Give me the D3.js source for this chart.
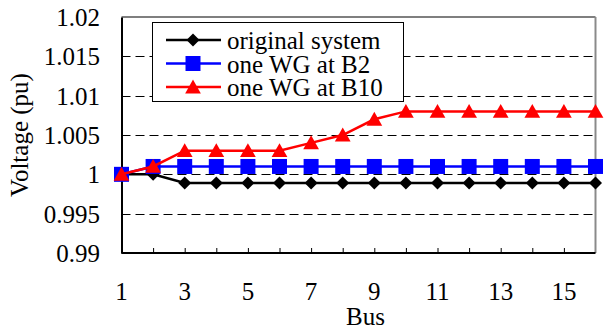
<!DOCTYPE html>
<html>
<head>
<meta charset="utf-8">
<script src="https://cdn.jsdelivr.net/npm/d3@7"></script>
<style>
  html, body { margin: 0; padding: 0; background: #fff; }
  svg { display: block; }
</style>
</head>
<body>
<svg id="chart" width="607" height="331"></svg>
<script>
// Bus numbers along the feeder
const buses = [1, 2, 3, 4, 5, 6, 7, 8, 9, 10, 11, 12, 13, 14, 15, 16];
// Bus voltages (pu) for each case
const originalSystem = [1.0, 1.0, 0.9989, 0.9989, 0.9989, 0.9989, 0.9989, 0.9989, 0.9989, 0.9989, 0.9989, 0.9989, 0.9989, 0.9989, 0.9989, 0.9989];
const wgAtB2 = [1.0, 1.001, 1.001, 1.001, 1.001, 1.001, 1.001, 1.001, 1.001, 1.001, 1.001, 1.001, 1.001, 1.001, 1.001, 1.001];
const wgAtB10 = [1.0, 1.001, 1.003, 1.003, 1.003, 1.003, 1.004, 1.005, 1.007, 1.008, 1.008, 1.008, 1.008, 1.008, 1.008, 1.008];
// Axis ticks
const yTicks = [0.99, 0.995, 1.0, 1.005, 1.01, 1.015, 1.02];
const yTickLabels = ["0.99", "0.995", "1", "1.005", "1.01", "1.015", "1.02"];
const xTickLabels = [1, 3, 5, 7, 9, 11, 13, 15];
const seriesNames = ["original system", "one WG at B2", "one WG at B10"];

const svg = d3.select("#chart")
  .attr("font-family", "'Liberation Serif', 'DejaVu Serif', serif");
const plotLeft = 121.5, plotRight = 595.5, plotTop = 17, plotBottom = 253;
const fontSize = 25;

const x = d3.scaleLinear().domain([1, 16]).range([plotLeft, plotRight]);
const y = d3.scaleLinear().domain([0.99, 1.02]).range([plotBottom, plotTop]);

// Dashed horizontal gridlines
svg.append("g").selectAll("line")
  .data(yTicks.filter(v => v > 0.99 && v < 1.02))
  .join("line")
  .attr("x1", plotLeft).attr("x2", plotRight)
  .attr("y1", d => Math.round(y(d)) + 0.5).attr("y2", d => Math.round(y(d)) + 0.5)
  .attr("stroke", "#000").attr("stroke-width", 1)
  .attr("stroke-dasharray", "9,5");

// Top and right frame
svg.append("line").attr("x1", plotLeft).attr("x2", plotRight).attr("y1", plotTop).attr("y2", plotTop)
  .attr("stroke", "#555").attr("stroke-width", 1.5);
svg.append("line").attr("x1", plotRight).attr("x2", plotRight).attr("y1", plotTop).attr("y2", plotBottom)
  .attr("stroke", "#8a8a8a").attr("stroke-width", 2);

// Bottom axis with inward ticks
const xAxis = d3.axisBottom(x).tickValues(buses).tickSize(-5).tickFormat("");
const gx = svg.append("g").attr("transform", `translate(0,${plotBottom})`).call(xAxis);
gx.select(".domain").attr("stroke", "#000").attr("stroke-width", 2).attr("d", `M${plotLeft},0H${plotRight}`);
gx.selectAll(".tick line").attr("stroke", "#000").attr("stroke-width", 1);
gx.selectAll(".tick").filter(d => d === 1 || d === 16).remove();

// Left axis line
const yAxis = d3.axisLeft(y).tickValues(yTicks).tickSize(0).tickFormat("");
const gy = svg.append("g").attr("transform", `translate(${plotLeft},0)`).call(yAxis);
gy.select(".domain").attr("stroke", "#000").attr("stroke-width", 2);

const txt = sel => sel.attr("font-family", "'Liberation Serif', 'DejaVu Serif', serif")
  .attr("font-size", fontSize).attr("fill", "#000");

// Y tick labels
svg.append("g").selectAll("text")
  .data(yTicks)
  .join("text")
  .call(txt)
  .attr("x", 100).attr("y", d => y(d) + 9)
  .attr("text-anchor", "end")
  .text((d, i) => yTickLabels[i]);

// X tick labels
svg.append("g").selectAll("text")
  .data(xTickLabels)
  .join("text")
  .call(txt)
  .attr("x", d => x(d)).attr("y", 300)
  .attr("text-anchor", "middle")
  .text(d => d);

// Axis titles
svg.append("text").call(txt).attr("x", (plotLeft + plotRight) / 2 + 7).attr("y", 325)
  .attr("text-anchor", "middle").text("Bus");
svg.append("text").call(txt)
  .attr("transform", `translate(28,135) rotate(-90)`)
  .attr("text-anchor", "middle").text("Voltage (pu)");

// Marker shapes
const diamond = s => `M0,${-s}L${s},0L0,${s}L${-s},0Z`;
const square = s => `M${-s},${-s}H${s}V${s}H${-s}Z`;
const triangle = s => `M0,${-s}L${s * 1.05},${s * 0.85}H${-s * 1.05}Z`;

const series = [
  { name: seriesNames[0], values: originalSystem, color: "#000000", shape: diamond(6.5), width: 2.5 },
  { name: seriesNames[1], values: wgAtB2, color: "#0000ff", shape: square(7.5), width: 2.5 },
  { name: seriesNames[2], values: wgAtB10, color: "#ff0000", shape: triangle(7.5), width: 2.5 }
];

const line = d3.line().x((d, i) => x(buses[i])).y(d => y(d));

series.forEach(s => {
  const g = svg.append("g");
  g.append("path").attr("d", line(s.values))
    .attr("fill", "none").attr("stroke", s.color).attr("stroke-width", s.width);
  g.selectAll("path.m").data(s.values).join("path").attr("class", "m")
    .attr("d", s.shape)
    .attr("transform", (d, i) => `translate(${x(buses[i])},${y(d)})`)
    .attr("fill", s.color);
});

// Legend
const lg = svg.append("g");
lg.append("rect").attr("x", 152.5).attr("y", 22.5).attr("width", 251).attr("height", 79)
  .attr("fill", "#fff").attr("stroke", "#000").attr("stroke-width", 1);
const rowY = [40, 63.5, 87];
series.forEach((s, i) => {
  const row = lg.append("g").attr("transform", `translate(0,${rowY[i]})`);
  row.append("line").attr("x1", 166).attr("x2", 221).attr("y1", 0).attr("y2", 0)
    .attr("stroke", s.color).attr("stroke-width", s.width);
  row.append("path").attr("d", s.shape).attr("transform", "translate(193,0)").attr("fill", s.color);
  row.append("text").call(txt).attr("x", 227).attr("y", 9).text(s.name);
});
</script>
</body>
</html>
